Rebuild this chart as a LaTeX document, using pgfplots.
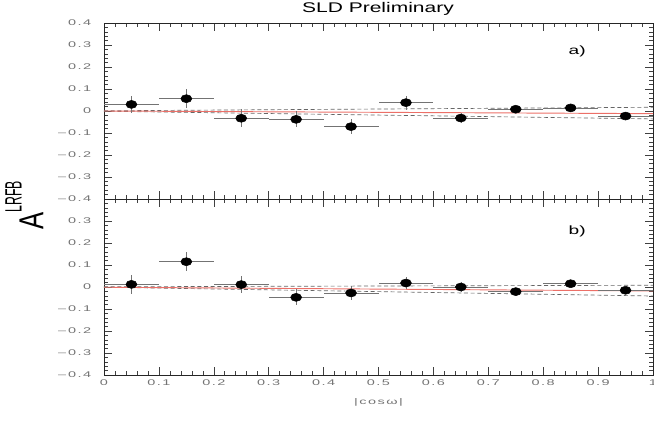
\documentclass[border=0pt]{standalone}
\usepackage{fontspec}
\setmainfont{Liberation Sans}
\usepackage{pgfplots}
\pgfplotsset{compat=1.18}
\usepackage{pgfplotstable}
\newfontfamily\tickfont[FakeStretch=1.75,LetterSpace=18]{Liberation Sans}
\newfontfamily\titlefont[FakeStretch=1.5]{Liberation Sans}
\newfontfamily\letfont[FakeStretch=1.6]{Liberation Sans}
\newfontfamily\Afont[FakeStretch=0.74]{Liberation Sans}
\newfontfamily\supfont[FakeStretch=0.52]{Liberation Sans}
\definecolor{tickgray}{gray}{0.45}
\definecolor{fitred}{RGB}{236,112,104}
\newcommand{\m}{\textendash\hspace{1.5pt}}

\pgfplotstableread{
x y ey
0.05 0.030 0.040
0.15 0.056 0.044
0.25 -0.033 0.040
0.35 -0.038 0.036
0.45 -0.071 0.035
0.55 0.038 0.032
0.65 -0.032 0.023
0.75 0.008 0.017
0.85 0.014 0.019
0.95 -0.023 0.016
}\toppts
\pgfplotstableread{
x y ey
0.05 0.012 0.042
0.15 0.115 0.042
0.25 0.011 0.038
0.35 -0.047 0.037
0.45 -0.027 0.032
0.55 0.018 0.026
0.65 0.000 0.021
0.75 -0.021 0.014
0.85 0.015 0.017
0.95 -0.015 0.015
}\botpts

\pgfplotsset{
  panel/.style={
    scale only axis, width=411.75pt, height=132pt,
    anchor=south west,
    xmin=0, xmax=1, ymin=-0.4, ymax=0.4,
    xtick={0,0.1,0.2,0.3,0.4,0.5,0.6,0.7,0.8,0.9,1},
    minor x tick num=4, minor y tick num=4,
    tick align=inside,
    major tick length=6pt, minor tick length=3pt,
    every tick/.style={black!75, line width=0.45pt},
    axis line style={black!85, line width=0.6pt},
    tick label style={font=\tickfont\fontsize{6.2}{7}\selectfont, text=tickgray},
    yticklabel style={xshift=-6pt},
    clip=false,
  },
  pts/.style={
    only marks, mark=*, mark size=3pt,
    mark options={xscale=1.375, fill=black, draw=black},
    error bars/.cd, x dir=both, x fixed=0.05, y dir=both, y explicit,
    error mark=none,
    error bar style={black!55, line width=0.5pt},
  },
  fitline/.style={fitred, line width=0.7pt},
  bandline/.style={black!60, line width=0.5pt, dash pattern=on 3pt off 2pt},
}

\begin{document}
\begin{tikzpicture}
\useasboundingbox (0,0) rectangle (490.5pt,327pt);

\begin{axis}[panel, at={(78pt,177.75pt)},
  xticklabels={},
  ytick={-0.4,-0.3,-0.2,-0.1,0,0.1,0.2,0.3,0.4},
  yticklabels={\m0.4,\m0.3,\m0.2,\m0.1,0,0.1,0.2,0.3,0.4}]
  \addplot[bandline] coordinates {(0,0.001) (1,0.017)};
  \addplot[bandline] coordinates {(0,-0.001) (1,-0.036)};
  \addplot[fitline] coordinates {(0,0) (1,-0.012)};
  \addplot[pts] table[x=x, y=y, y error=ey] {\toppts};
  \node[font=\letfont\fontsize{9}{10}\selectfont] at (axis cs:0.862,0.27) {a)};
\end{axis}

\begin{axis}[panel, at={(78pt,45.75pt)},
  xticklabels={0,0.1,0.2,0.3,0.4,0.5,0.6,0.7,0.8,0.9,1},
  ytick={-0.4,-0.3,-0.2,-0.1,0,0.1,0.2,0.3,0.4},
  yticklabels={\m0.4,\m0.3,\m0.2,\m0.1,0,0.1,0.2,0.3,{}}]
  \addplot[bandline] coordinates {(0,0.001) (1,0.008)};
  \addplot[bandline] coordinates {(0,-0.001) (1,-0.041)};
  \addplot[fitline] coordinates {(0,-0.001) (1,-0.018)};
  \addplot[pts] table[x=x, y=y, y error=ey] {\botpts};
  \node[font=\letfont\fontsize{9}{10}\selectfont] at (axis cs:0.862,0.255) {b)};
  \node[font=\tickfont\fontsize{6.2}{7}\selectfont, text=tickgray] at (axis description cs:0.5,-0.153) {|cosω|};
\end{axis}

\node[font=\titlefont\fontsize{10.5}{12}\selectfont, anchor=base] at (283.5pt,317.25pt) {SLD Preliminary};

\node[rotate=90, anchor=base west, inner sep=0pt] at (32.5pt,154.5pt)
  {{\Afont\fontsize{26}{26}\selectfont A}\raisebox{16.2pt}{\supfont\fontsize{17.7}{18}\selectfont LRFB}};
\end{tikzpicture}
\end{document}
